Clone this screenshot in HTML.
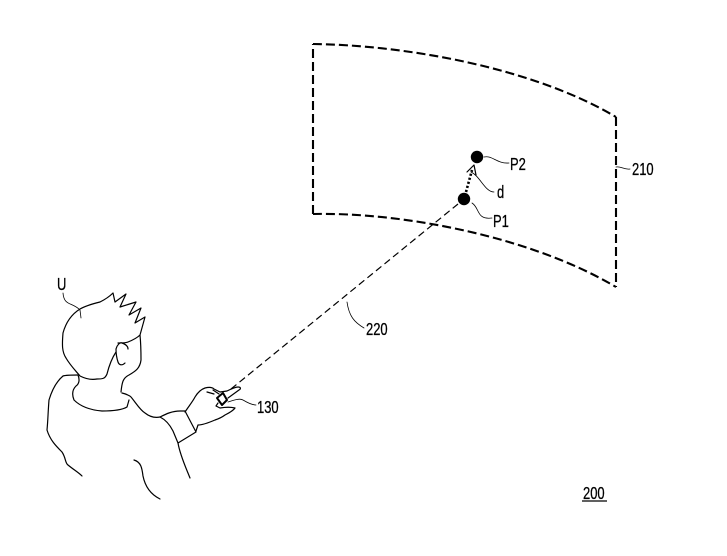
<!DOCTYPE html>
<html><head><meta charset="utf-8"><style>
html,body{margin:0;padding:0;background:#fff;width:727px;height:556px;overflow:hidden}
svg{display:block}
text{font-family:"Liberation Sans",sans-serif;font-size:18px;fill:#000;stroke:#000;stroke-width:.3px}
</style></head><body>
<svg width="727" height="556" viewBox="0 0 727 556" xmlns="http://www.w3.org/2000/svg">
<g fill="none" stroke="#000" stroke-width="1.2" stroke-linecap="round" stroke-linejoin="round">
<!-- panel -->
<g stroke-width="2.1" stroke-dasharray="9 4" stroke-linecap="butt">
<path d="M313 44 C400 45 530 66 616 117"/>
<path d="M616 117 V287"/>
<path d="M313 214 C400 212 530 236 616 287"/>
<path d="M313 214 V44"/>
</g>
<!-- ray -->
<path d="M231 389 L458 204" stroke-width="1.2" stroke-dasharray="7 4" stroke-linecap="butt"/>
<!-- dotted vector -->
<path d="M466 192 L472 170" stroke-width="2.6" stroke-dasharray="2.2 2" stroke-linecap="butt"/>
<path d="M467 172 L474 165 L476 175" stroke-width="1.2"/>
<!-- leaders -->
<g stroke-width=".8">
<path d="M484 157 C492 155 497 164 509 163"/>
<path d="M471 172 C480 176 485 192 494 192"/>
<path d="M472 203 C480 208 476 220 492 218"/>
<path d="M616 167 C621 166 624 170 630 169"/>
<path d="M347 302 C349 316 354 322 364 328"/>
<path d="M63 293 C64 306 72 302 80 310 L81 318"/>
<path d="M228 402 C234 400 240 398 243 400 C248 403 252 405 256 405"/>
</g>
<!-- head -->
<path d="M118 343 C122 343 126 343 128 342 C133 340 137 338 140 335 L145 317 L135 323 L141 308 L129 315 L136 302 L120 307 L126 294 L115 302 L113 293 C108 298 104 300 100 302 C92 304 85 306 80 309 C72 314 66 322 63 333 C62 345 62 352 66 358 C70 365 75 370 80 376 C86 379 92 380 97 379 C102 379 105 379 107 374 C109 366 112 358 116 352"/>
<path d="M122 343 C120 342 117 345 116 349 C116 354 117 359 118 362 C119 365 122 366 125 363 M122 343 C125 344 128 346 128 349"/>
<path d="M140 335 C141 345 141 355 141 360 C140 368 136 371 129 375 C123 378 122 382 121 392"/>
<!-- collar -->
<path d="M78 375 C80 380 79 384 76 386 C72 390 72 395 74 400 C80 406 90 410 102 411 C112 411 122 410 127 407 L129 400"/>
<!-- back and shoulder -->
<path d="M78 375 C72 375 66 375 63 376 C57 381 52 390 49 400 C48 412 48 420 47 430 C50 440 56 446 62 452 C66 458 65 463 68 465 C74 470 78 472 82 476"/>
<path d="M122 393 C126 394 129 395 131 397 C136 403 140 410 145 413 C150 417 155 418 160 417 C166 414 172 411 180 411 L185 411"/>
<path d="M134 460 C141 462 142 468 143 476 C145 486 150 494 160 499"/>
<!-- sleeve -->
<path d="M160 417 C166 420 170 425 173 431 L178 443 L196 432 L185 411"/>
<path d="M178 443 C180 455 186 468 190 478"/>
<!-- hand -->
<path d="M185 412 C189 406 193 401 195 397 C198 392 202 389 205 388 C209 387 212 387 214 389 L220 392 L227 391 C231 389 235 387 238 387 C241 387 241 389 239 390 L228 398"/>
<path d="M207 392 L214 394 M213 390 L219 394"/>
<path d="M218 403 L216 406 L220 408 C226 407 231 407 235 408 C233 411 229 413 225 415 C221 418 218 419 215 420 C208 423 202 425 198 425 L196 431"/>
<path d="M217 398 L223 393 L227 400 L222 405 Z" stroke-width="2" fill="#fff"/>
</g>
<circle cx="477" cy="157" r="6.2" fill="#000"/>
<circle cx="464" cy="199" r="6.2" fill="#000"/>
<g text-anchor="start">
<text transform="translate(510 170) scale(.72 1)">P2</text>
<text transform="translate(497 198) scale(.72 1)">d</text>
<text transform="translate(493 227) scale(.72 1)">P1</text>
<text transform="translate(632 175) scale(.72 1)">210</text>
<text transform="translate(366 335) scale(.72 1)">220</text>
<text transform="translate(57 290) scale(.72 1)">U</text>
<text transform="translate(257 413) scale(.72 1)">130</text>
<text transform="translate(583 499) scale(.72 1)">200</text>
</g>
<path d="M582 501 H607" stroke="#000" stroke-width="1.2" fill="none"/>
</svg>
</body></html>
